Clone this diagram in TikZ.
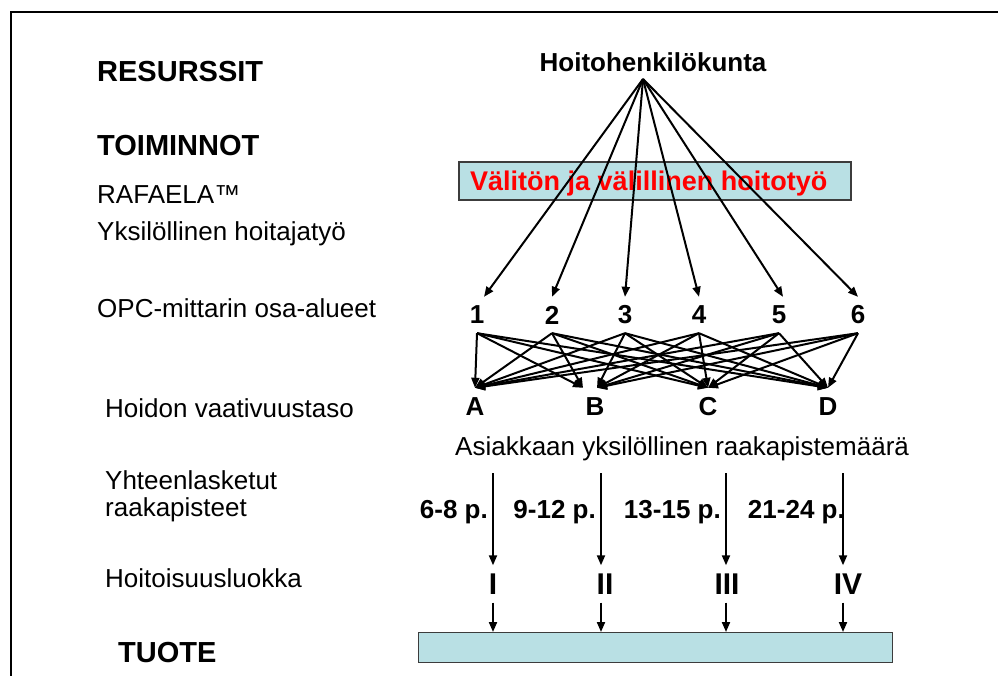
\documentclass[tikz,border=0pt]{standalone}
\usepackage{fontspec}
\setmainfont{Liberation Sans}
\usetikzlibrary{arrows.meta}
\definecolor{boxblue}{RGB}{185,224,228}
\definecolor{boxedge}{RGB}{60,60,60}
\newcommand{\fsz}[1]{\fontsize{#1}{#1}\selectfont}
\begin{document}
\begin{tikzpicture}[x=1pt,y=-1pt,
  every node/.style={inner sep=0pt},
  lbl/.style={anchor=west, font=\fsz{26}},
  head/.style={anchor=west, font=\bfseries\fsz{29}},
  num/.style={font=\bfseries\fsz{26}, minimum height=36pt, minimum width=16pt},
  letter/.style={font=\bfseries\fsz{26}, minimum height=38pt},
  roman/.style={font=\bfseries\fsz{30}},
  pts/.style={anchor=east, font=\bfseries\fsz{26}},
  arr/.style={line width=2pt, -{Triangle[length=10pt,width=8pt]}},
  band/.style={draw=boxedge, fill=boxblue, line width=1.2pt}]
\useasboundingbox (0,0) rectangle (998,676);

% frame
\draw[line width=1.6pt] (11,676) -- (11,12) -- (998,12);

% left column
\node[head] (res) at (97,72) {RESURSSIT};
\node[head] (toi) at (97,146) {TOIMINNOT};
\node[lbl] (raf) at (97,195) {RAFAELA™};
\node[lbl] (yks) at (97,234) {Yksilöllinen hoitajatyö};
\node[lbl] (opc) at (97,308) {OPC-mittarin osa-alueet};
\node[lbl] (hvt) at (105,408) {Hoidon vaativuustaso};
\node[lbl] (yht) at (105,480) {Yhteenlasketut};
\node[lbl] (raa) at (105,510) {raakapisteet};
\node[lbl] (hls) at (105,578) {Hoitoisuusluokka};
\node[head] (tuo) at (118,653) {TUOTE};

% staff and work band
\node[font=\bfseries\fsz{26}] (hk) at (653,62) {Hoitohenkilökunta};
\coordinate (apex) at (643,79);
\draw[band] (459,162) rectangle (851,200);
\node[anchor=west, text=red, font=\bfseries\fsz{27}] (val) at (470,184) {Välitön ja välillinen hoitotyö};

% OPC areas
\node[num] (n1) at (477,315) {1};
\node[num] (n2) at (552,315) {2};
\node[num] (n3) at (625,315) {3};
\node[num] (n4) at (699,315) {4};
\node[num] (n5) at (779,315) {5};
\node[num] (n6) at (858,315) {6};

\draw[arr] (apex) -- ([xshift=7pt]n1.north);
\foreach \i in {2,3,4,6} \draw[arr] (apex) -- (n\i.north);
\draw[arr] (apex) -- ([xshift=4pt]n5.north);

% levels of care demand
\node[letter] (A) at (475,407) {A};
\node[letter] (B) at (595,407) {B};
\node[letter] (C) at (708,407) {C};
\node[letter] (D) at (828,407) {D};

\foreach \n in {1,...,6} {
  \foreach \l in {A,C,D} \draw[arr] (n\n.south) -- (\l.north);
}
\foreach \n in {1,2} \draw[arr] (n\n.south) -- ([xshift=-12pt]B.north);
\foreach \n in {3,...,6} \draw[arr] (n\n.south) -- ([xshift=2pt]B.north);

% raw points and classes
\node[lbl] (asi) at (455,449) {Asiakkaan yksilöllinen raakapistemäärä};

\coordinate (t1) at (493,473);
\coordinate (t2) at (601,473);
\coordinate (t3) at (726,473);
\coordinate (t4) at (843,473);

\node[pts] (p1) at (488,512) {6-8 p.};
\node[pts] (p2) at (596,512) {9-12 p.};
\node[pts] (p3) at (721,512) {13-15 p.};
\node[pts] (p4) at (845,512) {21-24 p.};

\node[roman, minimum height=37pt] (r1) at (493,584) {I};
\node[roman, minimum height=37pt] (r2) at (605,584) {II};
\node[roman, minimum height=37pt] (r3) at (727,584) {III};
\node[roman, minimum height=37pt] (r4) at (848,584) {IV};

\node[band, anchor=north west, minimum width=474pt, minimum height=30pt] (tuote) at (418,632) {};

\foreach \i in {1,...,4} {
  \draw[arr] (t\i) -- (t\i |- r\i.north);
  \draw[arr] (t\i |- r\i.south) -- (t\i |- tuote.north);
}
\end{tikzpicture}
\end{document}
